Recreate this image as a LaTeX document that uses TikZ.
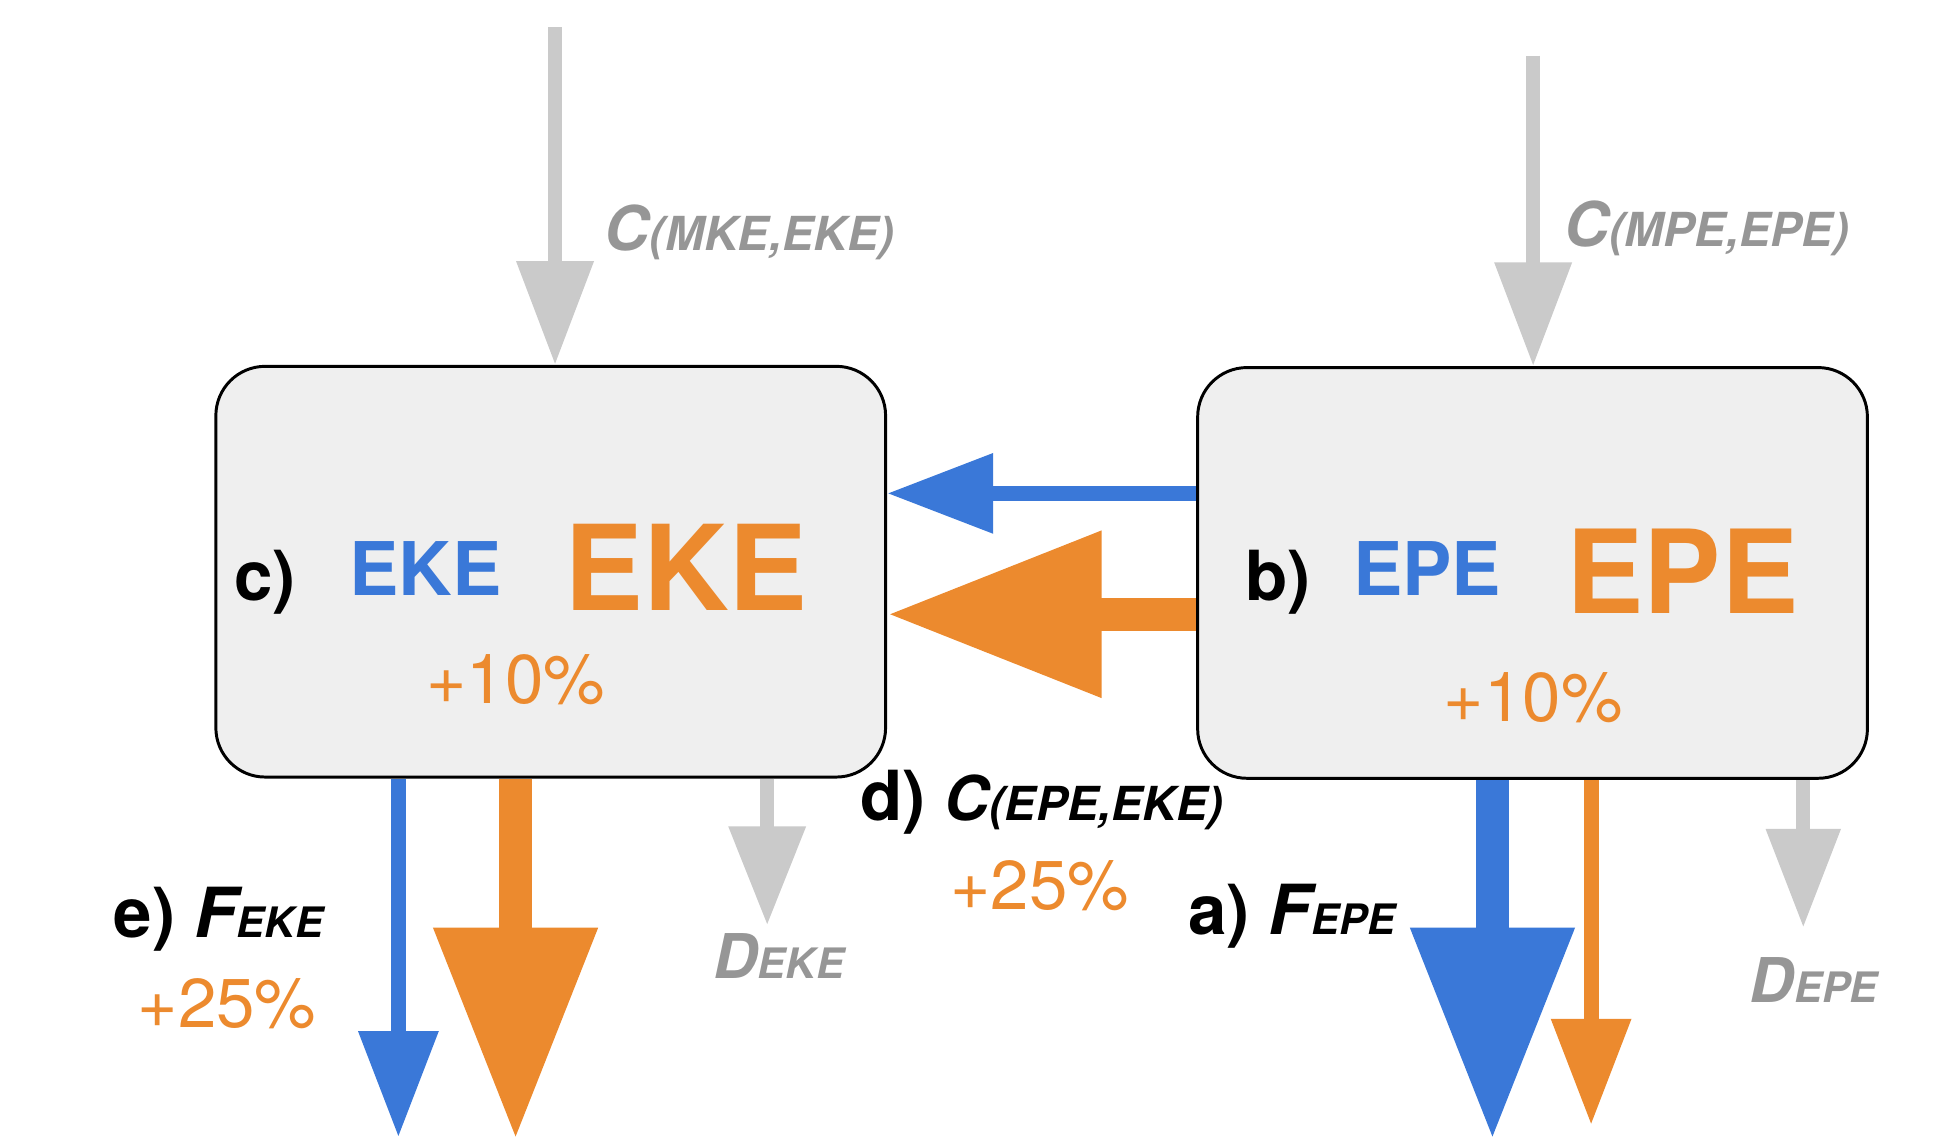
\documentclass[tikz,border=0pt]{standalone}
\usepackage{fontspec}
\setmainfont{TeX Gyre Heros}
\usetikzlibrary{arrows.meta}
\definecolor{flowblue}{RGB}{58,120,216}
\definecolor{floworange}{RGB}{236,138,46}
\definecolor{flowgray}{RGB}{202,202,202}
\definecolor{labelgray}{RGB}{150,150,150}
\definecolor{boxfill}{RGB}{239,239,239}
\newcommand{\fs}[1]{\fontsize{#1}{#1}\selectfont}
\newcommand{\smallpart}[1]{{\fs{19pt}#1}}

\begin{document}
\begin{tikzpicture}[x=0.5pt,y=-0.5pt,
  reservoir/.style={draw=black, line width=1.2pt, rounded corners=20pt, fill=boxfill,
    minimum width=271.5pt, minimum height=166.5pt, inner sep=0pt},
  txt/.style={inner sep=0pt},
  flow/.style n args={3}{line width=#1, -{Triangle[length=#2,width=#3]}},
  thinflow/.style={flow={6pt}{43pt}{31pt}},
  thickflow/.style={flow={13.5pt}{86pt}{63pt}}
]
\useasboundingbox (0,0) rectangle (1568,926);

% energy reservoirs
\node[reservoir] (L) at (446.5,463.5) {};
\node[reservoir] (R) at (1242.5,464.5) {};

% reservoir contents
\node[txt, anchor=base, font=\fs{28pt}\bfseries] (clab) at (215,487) {c)};
\node[txt, anchor=base, font=\fs{30pt}\bfseries, text=flowblue] (ekeb) at (345,483) {EKE};
\node[txt, anchor=base, font=\fs{48pt}\bfseries, text=floworange] (ekeo) at (556,495) {EKE};
\node[txt, anchor=base, font=\fs{28pt}, text=floworange] (ekep) at (418,570) {+10\%};

\node[txt, anchor=base, font=\fs{28pt}\bfseries] (blab) at (1036,487) {b)};
\node[txt, anchor=base, font=\fs{30pt}\bfseries, text=flowblue] (epeb) at (1157,483) {EPE};
\node[txt, anchor=base, font=\fs{47pt}\bfseries, text=floworange] (epeo) at (1364,497) {EPE};
\node[txt, anchor=base, font=\fs{28pt}, text=floworange] (epep) at (1243,585) {+10\%};

% incoming conversions from the mean flow
\coordinate (mkesrc) at (450,22);
\coordinate (mpesrc) at (1243,45);
\draw[flowgray, flow={5.5pt}{42pt}{30pt}] (mkesrc) -- (L.north -| mkesrc);
\draw[flowgray, flow={5.5pt}{42pt}{30pt}] (mpesrc) -- (R.north -| mpesrc);
\node[txt, anchor=base west, font=\fs{25pt}\bfseries\itshape, text=labelgray] (cmke) at (490,203) {C\smallpart{(MKE,EKE)}};
\node[txt, anchor=base west, font=\fs{25pt}\bfseries\itshape, text=labelgray] (cmpe) at (1268,200) {C\smallpart{(MPE,EPE)}};

% conversion EPE -> EKE
\draw[flowblue, thinflow] (R.west |- 0,400) -- (L.east |- 0,400);
\draw[floworange, flow={13.5pt}{87pt}{64pt}] (R.west |- 0,498) -- (L.east |- 0,498);
\node[txt, anchor=base west, font=\fs{28pt}\bfseries] (dlab) at (697,665)
  {d) {\fs{25pt}\itshape C\smallpart{(EPE,EKE)}}};
\node[txt, anchor=base, font=\fs{28pt}, text=floworange] (dpct) at (843,737) {+25\%};

% fluxes out of EKE
\coordinate (ekeblue) at (323,922);
\coordinate (ekeorange) at (418,924);
\coordinate (ekedis) at (622,750);
\draw[flowblue, thinflow] (L.south -| ekeblue) -- (ekeblue);
\draw[floworange, thickflow] (L.south -| ekeorange) -- (ekeorange);
\draw[flowgray, flow={5.5pt}{40pt}{30pt}] (L.south -| ekedis) -- (ekedis);
\node[txt, anchor=base west, font=\fs{28pt}\bfseries] (elab) at (92,760)
  {e) {\itshape F{\fs{17pt}EKE}}};
\node[txt, anchor=base, font=\fs{28pt}, text=floworange] (epct) at (184,833) {+25\%};
\node[txt, anchor=base west, font=\fs{25pt}\bfseries\itshape, text=labelgray] (deke) at (578,793) {D{\fs{17pt}EKE}};

% fluxes out of EPE
\coordinate (epeblue) at (1210,924);
\coordinate (epeorange) at (1290,912);
\coordinate (epedis) at (1462,752);
\draw[flowblue, thickflow] (R.south -| epeblue) -- (epeblue);
\draw[floworange, thinflow] (R.south -| epeorange) -- (epeorange);
\draw[flowgray, flow={5.5pt}{40pt}{29pt}] (R.south -| epedis) -- (epedis);
\node[txt, anchor=base west, font=\fs{28pt}\bfseries] (alab) at (963,758)
  {a) {\itshape F{\fs{17pt}EPE}}};
\node[txt, anchor=base west, font=\fs{25pt}\bfseries\itshape, text=labelgray] (depe) at (1418,813) {D{\fs{17pt}EPE}};
\end{tikzpicture}
\end{document}
